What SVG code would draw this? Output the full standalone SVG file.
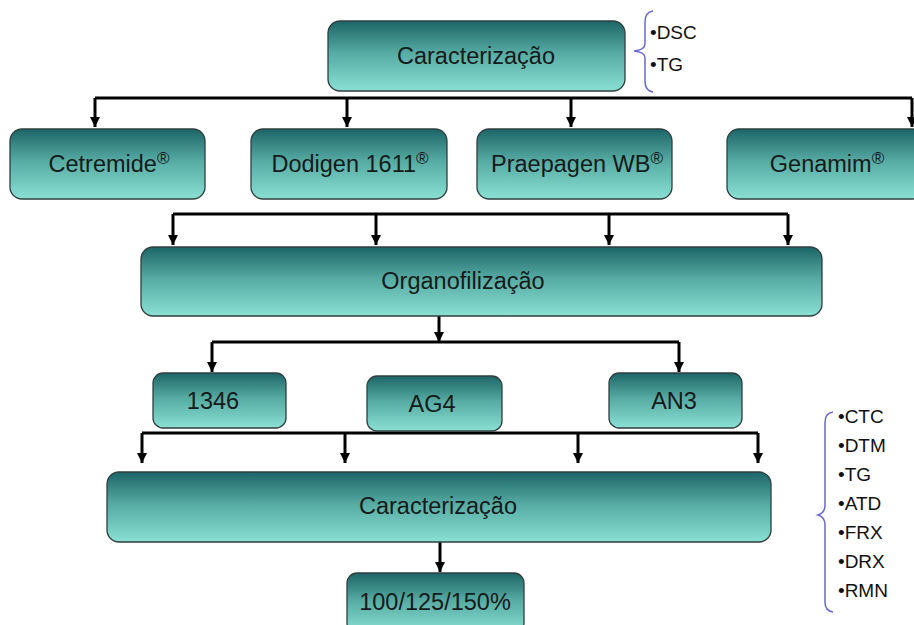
<svg xmlns="http://www.w3.org/2000/svg" width="914" height="625" viewBox="0 0 914 625">
<defs>
<linearGradient id="g" x1="0" y1="0" x2="0" y2="1">
<stop offset="0" stop-color="#1d6567"/>
<stop offset="0.45" stop-color="#55aaa2"/>
<stop offset="1" stop-color="#8ae0d3"/>
</linearGradient>
<marker id="ad" markerUnits="userSpaceOnUse" markerWidth="12" markerHeight="12" viewBox="0 0 12 12" refX="11" refY="6" orient="auto">
<path d="M1,1 L11,6 L1,11 Z" fill="#000"/>
</marker>
</defs>
<style>
.box{fill:url(#g);stroke:#2f3f3f;stroke-width:1.3}
.t{font-family:"Liberation Sans",Arial,sans-serif;font-size:23.5px;fill:#161a1a;text-anchor:middle}
.l{font-family:"Liberation Sans",Arial,sans-serif;font-size:19px;fill:#111}
.c{fill:none;stroke:#000;stroke-width:3}
.br{fill:none;stroke:#6a68d2;stroke-width:1.5}
.r{font-size:17px}
</style>
<rect width="914" height="625" fill="#fff"/>
<g id="connectors">
<path class="c" d="M95,98 H912"/>
<path class="c" d="M95,98 V127" marker-end="url(#ad)"/>
<path class="c" d="M347,98 V127" marker-end="url(#ad)"/>
<path class="c" d="M571,98 V127" marker-end="url(#ad)"/>
<path class="c" d="M912,98 V127" marker-end="url(#ad)"/>
<path class="c" d="M173,214 H788"/>
<path class="c" d="M173,214 V245" marker-end="url(#ad)"/>
<path class="c" d="M376,214 V245" marker-end="url(#ad)"/>
<path class="c" d="M609,214 V245" marker-end="url(#ad)"/>
<path class="c" d="M788,214 V245" marker-end="url(#ad)"/>
<path class="c" d="M439,316 V342" marker-end="url(#ad)"/>
<path class="c" d="M212,342 H679"/>
<path class="c" d="M212,342 V372" marker-end="url(#ad)"/>
<path class="c" d="M679,342 V372" marker-end="url(#ad)"/>
<path class="c" d="M142,433 H758"/>
<path class="c" d="M142,433 V463" marker-end="url(#ad)"/>
<path class="c" d="M345,433 V463" marker-end="url(#ad)"/>
<path class="c" d="M578,433 V463" marker-end="url(#ad)"/>
<path class="c" d="M758,433 V463" marker-end="url(#ad)"/>
<path class="c" d="M440,542 V572" marker-end="url(#ad)"/>
</g>
<g id="caracterizacao1">
<rect class="box" x="328" y="21" width="297" height="70" rx="12"/>
<text class="t" x="476" y="64">Caracterização</text>
</g>
<g id="lista1">
<path class="br" d="M653,11 Q645,12 645,22 V44 Q645,50 634,51 Q645,52 645,58 V81 Q645,91 653,92"/>
<text class="l" x="650" y="39">•DSC</text>
<text class="l" x="650" y="71">•TG</text>
</g>
<g id="cetremide">
<rect class="box" x="10" y="129" width="195" height="70" rx="12"/>
<text class="t" x="109" y="172">Cetremide<tspan class="r" dy="-8">®</tspan></text>
</g>
<g id="dodigen">
<rect class="box" x="251" y="129" width="196" height="70" rx="12"/>
<text class="t" x="350" y="172">Dodigen 1611<tspan class="r" dy="-8">®</tspan></text>
</g>
<g id="praepagen">
<rect class="box" x="477" y="129" width="195" height="70" rx="12"/>
<text class="t" x="577" y="172">Praepagen WB<tspan class="r" dy="-8">®</tspan></text>
</g>
<g id="genamim">
<rect class="box" x="727" y="129" width="198" height="70" rx="12"/>
<text class="t" x="827" y="172">Genamim<tspan class="r" dy="-8">®</tspan></text>
</g>
<g id="organofilizacao">
<rect class="box" x="141" y="247" width="681" height="69" rx="12"/>
<text class="t" x="463" y="289">Organofilização</text>
</g>
<g id="n1346">
<rect class="box" x="153" y="373" width="133" height="55" rx="10"/>
<text class="t" x="213" y="409">1346</text>
</g>
<g id="ag4">
<rect class="box" x="367" y="376" width="135" height="55" rx="10"/>
<text class="t" x="432" y="412">AG4</text>
</g>
<g id="an3">
<rect class="box" x="609" y="373" width="133" height="55" rx="10"/>
<text class="t" x="674" y="409">AN3</text>
</g>
<g id="caracterizacao2">
<rect class="box" x="107" y="472" width="664" height="70" rx="12"/>
<text class="t" x="438" y="514">Caracterização</text>
</g>
<g id="lista2">
<path class="br" d="M833,412 Q825,413 825,423 V505 Q825,513 818,515 Q825,517 825,525 V602 Q825,611 833,612"/>
<text class="l" x="838" y="423">•CTC</text>
<text class="l" x="838" y="452">•DTM</text>
<text class="l" x="838" y="481">•TG</text>
<text class="l" x="838" y="510">•ATD</text>
<text class="l" x="838" y="539">•FRX</text>
<text class="l" x="838" y="568">•DRX</text>
<text class="l" x="838" y="597">•RMN</text>
</g>
<g id="percent">
<rect class="box" x="347" y="573" width="177" height="60" rx="10"/>
<text class="t" x="435" y="610">100/125/150%</text>
</g>
</svg>
